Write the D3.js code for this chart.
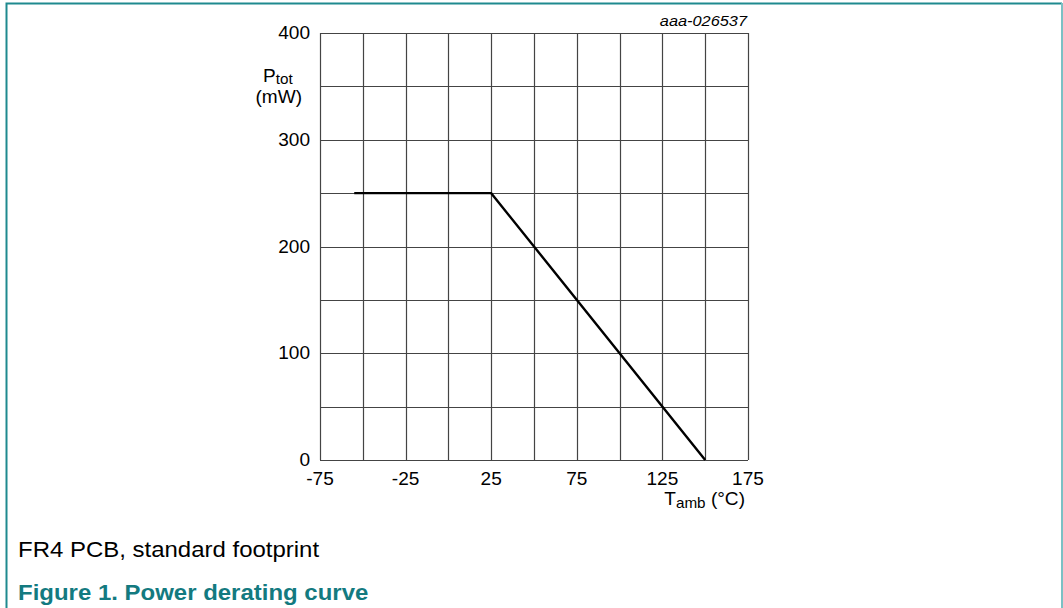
<!DOCTYPE html>
<meta charset="utf-8">
<style>
body { margin: 0; background: #fff; }
text { font-family: "Liberation Sans", Arial, sans-serif; fill: #000; }
</style>
<body>
<svg id="chart" width="1063" height="608"></svg>
</body>
<script src="https://d3js.org/d3.v7.min.js"></script>
<script>

// derating curve points (Tamb in °C, Ptot in mW)
var tamb = [-55, 25, 150];
var ptot = [250, 250, 0];
var xTicks = [-75, -25, 25, 75, 125, 175];
var yTicks = [0, 100, 200, 300, 400];

var svg = d3.select("#chart");

var x = d3.scaleLinear().domain([-75, 175]).range([320, 748]);
var y = d3.scaleLinear().domain([0, 400]).range([460, 33]);

// text in the original is a bit wider than Liberation Sans
var SX = 1.09;
function label(px, py, anchor, size) {
  return svg.append("text")
      .attr("transform", "translate(" + px + "," + py + ") scale(" + SX + ",1)")
      .attr("text-anchor", anchor)
      .style("font-size", size + "px");
}

// page frame
svg.append("path")
    .attr("d", "M6.5,608 V3.5 H1062")
    .attr("fill", "none")
    .attr("stroke", "#1f8a8f")
    .attr("stroke-width", 2);
svg.append("line")
    .attr("x1", 1062).attr("x2", 1062).attr("y1", 3).attr("y2", 608)
    .attr("stroke", "#7cc0c4").attr("stroke-width", 2);

var g = svg.append("g");

// grid
g.selectAll(".vgrid")
    .data(d3.range(-75, 176, 25))
  .enter().append("line")
    .attr("x1", function(d) { return Math.round(x(d)) + 0.5; })
    .attr("x2", function(d) { return Math.round(x(d)) + 0.5; })
    .attr("y1", y(0)).attr("y2", y(400))
    .attr("stroke", "#444").attr("stroke-width", 1.2);

g.selectAll(".hgrid")
    .data(d3.range(0, 401, 50))
  .enter().append("line")
    .attr("x1", x(-75)).attr("x2", x(175))
    .attr("y1", function(d) { return Math.round(y(d)) + 0.5; })
    .attr("y2", function(d) { return Math.round(y(d)) + 0.5; })
    .attr("stroke", "#444").attr("stroke-width", 1.2);

// tick labels
yTicks.forEach(function(d) {
  label(310, y(d) + 6, "end", 17.5).text(d);
});
xTicks.forEach(function(d) {
  label(x(d), 485, "middle", 17.5).text(d);
});

// axis titles
var yl = label(263, 82, "start", 17.5);
yl.append("tspan").text("P");
yl.append("tspan").attr("dy", 2).style("font-size", "14px").text("tot");
label(302, 103, "end", 17.5).text("(mW)");

var xl = label(745, 505, "end", 17.5);
xl.append("tspan").text("T");
xl.append("tspan").attr("dy", 3).style("font-size", "14px").text("amb");
xl.append("tspan").attr("dy", -3).text(" (°C)");

label(747, 26, "end", 15)
    .style("font-style", "italic")
    .text("aaa-026537");

// curve
var line = d3.line()
    .x(function(d) { return x(d[0]); })
    .y(function(d) { return y(d[1]); });

g.append("path")
    .datum(d3.zip(tamb, ptot))
    .attr("d", line)
    .attr("fill", "none")
    .attr("stroke", "#000")
    .attr("stroke-width", 2.4);

// captions
label(18, 557, "start", 22).text("FR4 PCB, standard footprint");

label(18, 600, "start", 22)
    .style("font-weight", "bold")
    .style("fill", "#137a80")
    .text("Figure 1. Power derating curve");

</script>
